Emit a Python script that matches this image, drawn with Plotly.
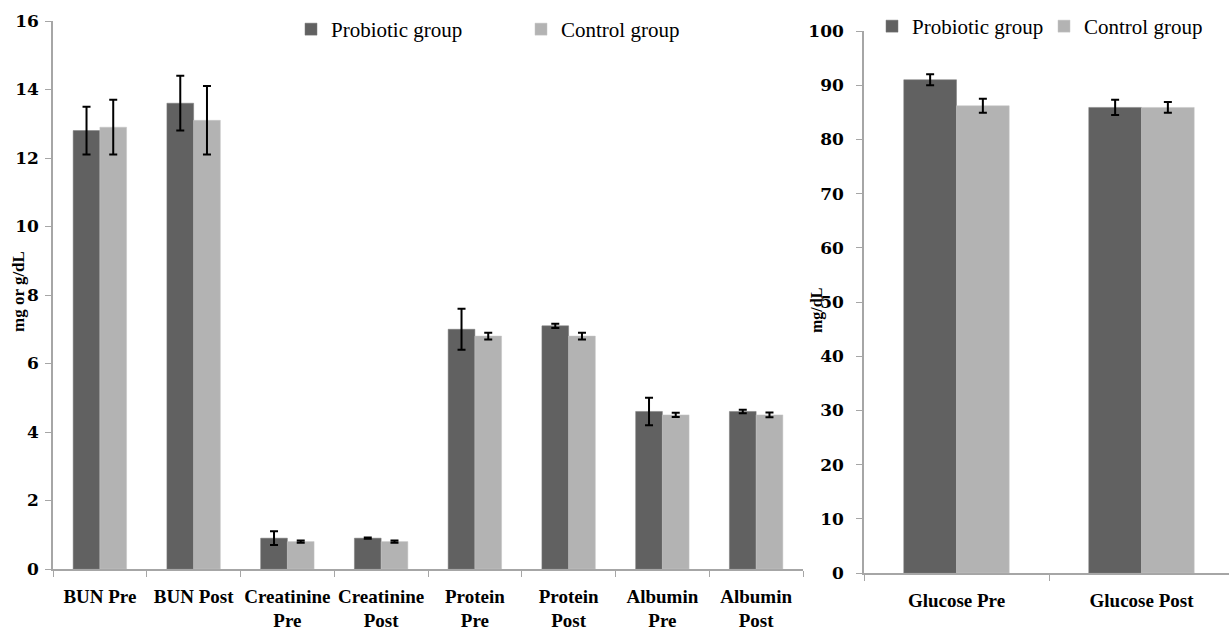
import plotly.graph_objects as go

# Renal / protein panel (left)
panel_cats = ["BUN Pre", "BUN Post", "Creatinine<br>Pre", "Creatinine<br>Post",
              "Protein<br>Pre", "Protein<br>Post", "Albumin<br>Pre", "Albumin<br>Post"]
probiotic_vals = [12.8, 13.6, 0.9, 0.9, 7.0, 7.1, 4.6, 4.6]
probiotic_err = [0.7, 0.8, 0.2, 0.02, 0.6, 0.06, 0.4, 0.05]
control_vals = [12.9, 13.1, 0.8, 0.8, 6.8, 6.8, 4.5, 4.5]
control_err = [0.8, 1.0, 0.03, 0.03, 0.1, 0.1, 0.06, 0.07]

# Glucose panel (right)
glucose_cats = ["Glucose Pre", "Glucose Post"]
glucose_probiotic = [91.0, 85.9]
glucose_probiotic_err = [1.0, 1.4]
glucose_control = [86.2, 85.9]
glucose_control_err = [1.3, 1.0]

DARK = "#616161"
LIGHT = "#b3b3b3"
AXIS = "#a6a6a6"
SERIF = "Liberation Serif, Times New Roman, serif"
WIDE_SERIF = "DejaVu Serif, Liberation Serif, serif"

W, H = 1229, 630


def err(vals):
    return dict(type="data", array=vals, visible=True, color="black",
                thickness=2, width=4)


fig = go.Figure()
fig.add_trace(go.Bar(x=panel_cats, y=probiotic_vals, name="Probiotic group",
                     marker=dict(color=DARK, line=dict(color="#7a7a7a", width=0.5)),
                     error_y=err(probiotic_err), xaxis="x", yaxis="y",
                     legend="legend"))
fig.add_trace(go.Bar(x=panel_cats, y=control_vals, name="Control group",
                     marker=dict(color=LIGHT, line=dict(color="#c4c4c4", width=0.5)),
                     error_y=err(control_err), xaxis="x", yaxis="y",
                     legend="legend"))
fig.add_trace(go.Bar(x=glucose_cats, y=glucose_probiotic, name="Probiotic group",
                     marker=dict(color=DARK, line=dict(color="#7a7a7a", width=0.5)),
                     error_y=err(glucose_probiotic_err), xaxis="x2", yaxis="y2",
                     legend="legend2"))
fig.add_trace(go.Bar(x=glucose_cats, y=glucose_control, name="Control group",
                     marker=dict(color=LIGHT, line=dict(color="#c4c4c4", width=0.5)),
                     error_y=err(glucose_control_err), xaxis="x2", yaxis="y2",
                     legend="legend2"))

yfont = dict(family=WIDE_SERIF, size=17, color="black", weight="bold")
xfont = dict(family=SERIF, size=19, color="black", weight="bold")

common_x = dict(type="category", showline=True, linecolor=AXIS, linewidth=1.5,
                ticks="outside", tickson="boundaries", ticklen=6, tickcolor=AXIS,
                tickfont=xfont, tickangle=0, showgrid=False, automargin=False,
                ticklabelstandoff=9, fixedrange=True)
common_y = dict(showline=True, linecolor=AXIS, linewidth=1.5,
                ticks="outside", ticklen=6, tickcolor=AXIS,
                tickfont=yfont, showgrid=False, zeroline=False,
                automargin=False, fixedrange=True)

fig.update_layout(
    width=W, height=H,
    margin=dict(l=0, r=0, t=0, b=0, autoexpand=False),
    paper_bgcolor="white", plot_bgcolor="white",
    barmode="group", bargap=0.43, bargroupgap=0,
    font=dict(family=SERIF, color="black"),
    xaxis=dict(common_x, domain=[53 / W, 803 / W], range=[-0.5, 7.5], anchor="y"),
    yaxis=dict(common_y, domain=[(H - 569) / H, (H - 21) / H], range=[0, 16],
               dtick=2, anchor="x", ticklabelstandoff=3),
    xaxis2=dict(common_x, domain=[864 / W, 1.0], range=[-0.5, 1.473], anchor="y2"),
    yaxis2=dict(common_y, domain=[(H - 573) / H, (H - 31) / H], range=[0, 100],
                dtick=10, anchor="x2", ticklabelstandoff=9),
    legend=dict(orientation="h", x=291 / W, xanchor="left",
                y=1 - 9 / H, yanchor="top", entrywidth=185,
                font=dict(family=SERIF, size=21, color="black"),
                bgcolor="rgba(0,0,0,0)", traceorder="normal"),
    legend2=dict(orientation="h", x=872 / W, xanchor="left",
                 y=1 - 6 / H, yanchor="top", entrywidth=127,
                 font=dict(family=SERIF, size=21, color="black"),
                 bgcolor="rgba(0,0,0,0)", traceorder="normal"),
    annotations=[
        dict(text="<b>mg or g/dL</b>", textangle=-90, x=18 / W, y=1 - 292 / H,
             xref="paper", yref="paper", xanchor="center", yanchor="middle",
             showarrow=False, font=dict(family=SERIF, size=17, color="black")),
        dict(text="<b>mg/dL</b>", textangle=-90, x=817 / W, y=1 - 311 / H,
             xref="paper", yref="paper", xanchor="center", yanchor="middle",
             showarrow=False, font=dict(family=SERIF, size=16, color="black")),
    ],
)

fig.write_html("out.html")
